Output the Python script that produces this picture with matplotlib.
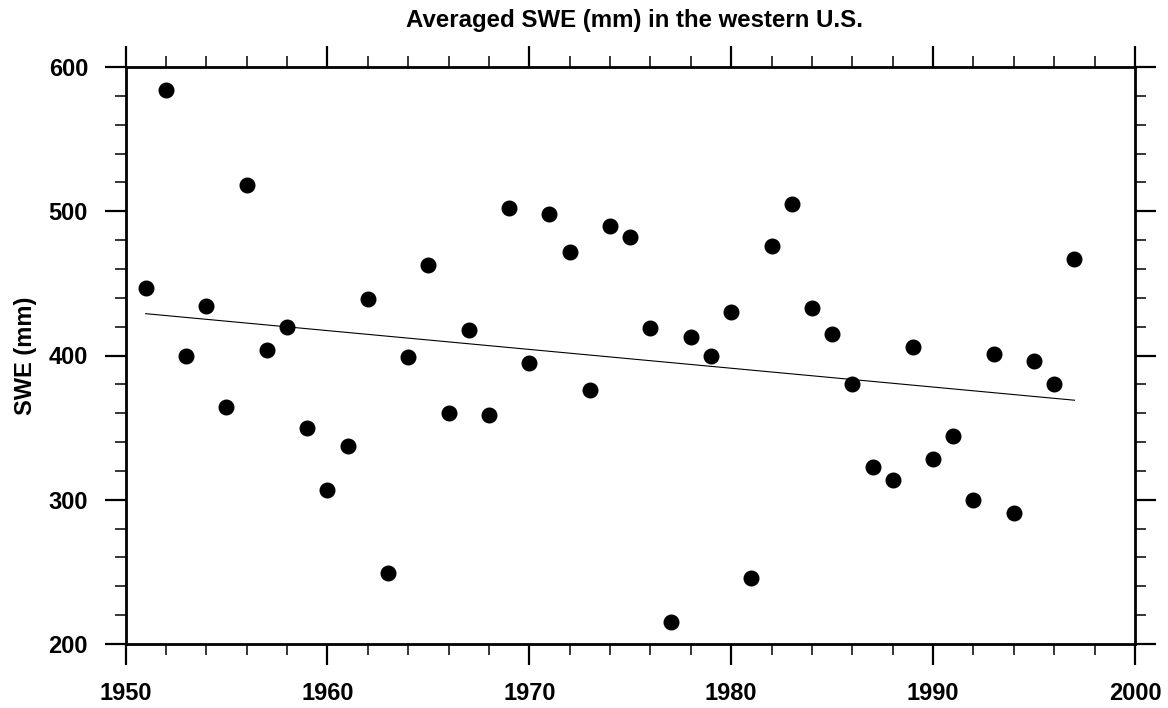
import matplotlib
matplotlib.use('Agg')
import matplotlib.pyplot as plt
from matplotlib.ticker import MultipleLocator

plt.rcParams['font.family'] = ['Liberation Sans', 'DejaVu Sans']

# yearly averaged SWE
years = list(range(1951, 1998))
swe = [447, 584, 400, 434, 364, 518, 404, 420, 350, 307,
       337, 439, 249, 399, 463, 360, 418, 359, 502, 395,
       498, 472, 376, 490, 482, 419, 215, 413, 400, 430,
       246, 476, 505, 433, 415, 380, 323, 314, 406, 328,
       344, 300, 401, 291, 396, 380, 467]

# linear trend line end points
trend_years = [1951, 1997]
trend_swe = [429, 369]

fig = plt.figure(figsize=(11.68, 7.08), dpi=100)
ax = fig.add_axes([125.5 / 1168, 1 - 644 / 708, (1135 - 125.5) / 1168, (644 - 67) / 708])

ax.plot(years, swe, 'o', color='black', markersize=10.5, zorder=3)
ax.plot(trend_years, trend_swe, color='black', linewidth=0.8)

ax.set_xlim(1950, 2000)
ax.set_ylim(200, 600)
ax.xaxis.set_major_locator(MultipleLocator(10))
ax.xaxis.set_minor_locator(MultipleLocator(2))
ax.yaxis.set_major_locator(MultipleLocator(100))
ax.yaxis.set_minor_locator(MultipleLocator(20))

ax.tick_params(which='both', direction='out', top=True, right=True,
               labeltop=False, labelright=False)
ax.tick_params(which='major', length=15, width=1.6, labelsize=17, pad=12)
ax.tick_params(which='minor', length=8, width=1.1)
for lab in ax.get_xticklabels() + ax.get_yticklabels():
    lab.set_fontweight('bold')
for s in ax.spines.values():
    s.set_linewidth(2)

fig.text(634 / 1168, 1 - 20 / 708, 'Averaged SWE (mm) in the western U.S.',
         fontsize=17.3, fontweight='bold', ha='center', va='center')
ax.set_ylabel('SWE (mm)', fontsize=17, fontweight='bold')
ax.yaxis.set_label_coords(-(125.5 - 37) / (1135 - 125.5), 0.5)

fig.savefig('out.png', dpi=100)
